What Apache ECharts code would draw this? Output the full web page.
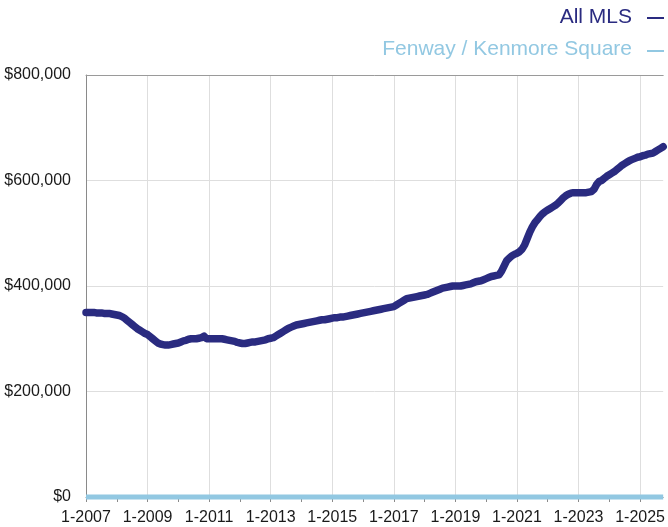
<!DOCTYPE html>
<html>
<head>
<meta charset="utf-8">
<script src="https://cdn.jsdelivr.net/npm/echarts@6/dist/echarts.min.js"></script>
<style>
html,body{margin:0;padding:0;background:#fff;}
#chart{width:668px;height:527px;}
</style>
</head>
<body>
<div id="chart"></div>
<script>
// Months shown: 1-2007 through 10-2025
const startYear = 2007;
const monthCount = 226;

// Median sale price, thousands of dollars (All MLS), monthly from 1-2007
const allMLS = [
  /*2007*/ 350,350,350,350,349,349,349,348,348,348,347,346,
  /*2008*/ 345,344,342,339,335,331,327,323,319,316,313,310,
  /*2009*/ 308,304,300,296,292,290,289,288,288,289,290,291,
  /*2010*/ 292,294,296,297,299,300,300,300,301,302,305,300,
  /*2011*/ 300,300,300,300,300,300,299,298,297,296,295,293,
  /*2012*/ 292,291,291,292,293,294,294,295,296,297,298,300,
  /*2013*/ 301,302,305,308,311,314,317,320,322,324,326,327,
  /*2014*/ 328,329,330,331,332,333,334,335,336,336,337,338,
  /*2015*/ 339,340,340,341,341,342,343,344,345,346,347,348,
  /*2016*/ 349,350,351,352,353,354,355,356,357,358,359,360,
  /*2017*/ 361,364,367,370,373,376,377,378,379,380,381,382,
  /*2018*/ 383,384,386,388,390,392,394,396,397,398,399,400,
  /*2019*/ 400,400,400,401,402,403,404,406,408,409,410,412,
  /*2020*/ 414,416,418,419,420,421,428,438,448,453,457,460,
  /*2021*/ 462,465,470,478,490,502,512,520,526,532,537,541,
  /*2022*/ 544,547,550,553,557,562,567,571,574,576,577,577,
  /*2023*/ 577,577,577,577,578,579,583,592,598,600,604,608,
  /*2024*/ 611,614,617,621,625,629,632,635,638,640,642,644,
  /*2025*/ 645,647,648,650,651,652,655,658,661,664
];

// Fenway / Kenmore Square, thousands of dollars (drawn along $0)
const fenway = [
  /*2007*/ 0,0,0,0,0,0,0,0,0,0,0,0,
  /*2008*/ 0,0,0,0,0,0,0,0,0,0,0,0,
  /*2009*/ 0,0,0,0,0,0,0,0,0,0,0,0,
  /*2010*/ 0,0,0,0,0,0,0,0,0,0,0,0,
  /*2011*/ 0,0,0,0,0,0,0,0,0,0,0,0,
  /*2012*/ 0,0,0,0,0,0,0,0,0,0,0,0,
  /*2013*/ 0,0,0,0,0,0,0,0,0,0,0,0,
  /*2014*/ 0,0,0,0,0,0,0,0,0,0,0,0,
  /*2015*/ 0,0,0,0,0,0,0,0,0,0,0,0,
  /*2016*/ 0,0,0,0,0,0,0,0,0,0,0,0,
  /*2017*/ 0,0,0,0,0,0,0,0,0,0,0,0,
  /*2018*/ 0,0,0,0,0,0,0,0,0,0,0,0,
  /*2019*/ 0,0,0,0,0,0,0,0,0,0,0,0,
  /*2020*/ 0,0,0,0,0,0,0,0,0,0,0,0,
  /*2021*/ 0,0,0,0,0,0,0,0,0,0,0,0,
  /*2022*/ 0,0,0,0,0,0,0,0,0,0,0,0,
  /*2023*/ 0,0,0,0,0,0,0,0,0,0,0,0,
  /*2024*/ 0,0,0,0,0,0,0,0,0,0,0,0,
  /*2025*/ 0,0,0,0,0,0,0,0,0,0
];

// Y tick values (thousands)
const yMin = 0, yMax = 800, yStep = 200;

const categories = [];
for (let i = 0; i < monthCount; i++) {
  const y = startYear + Math.floor(i / 12);
  const m = (i % 12) + 1;
  categories.push(m + '-' + y);
}

const NAVY = '#2a2b80';
const LIGHT = '#92c8e2';
const FONT = '"Liberation Sans", Arial, Helvetica, sans-serif';

const chart = echarts.init(document.getElementById('chart'), null, {renderer: 'canvas'});
chart.setOption({
  animation: false,
  backgroundColor: '#ffffff',
  grid: {left: 86, right: 0, top: 75, bottom: 30, containLabel: false},
  xAxis: [{
    type: 'category',
    data: categories,
    boundaryGap: false,
    axisLine: {show: true, lineStyle: {color: '#8a8a8a', width: 1}},
    axisTick: {show: true, interval: 11, length: 5, lineStyle: {color: '#8a8a8a'}},
    axisLabel: {interval: 23, color: '#1a1a1a', fontSize: 16, fontFamily: FONT, margin: 13},
    splitLine: {show: true, interval: 23, lineStyle: {color: '#dedede', width: 1}}
  }, {
    type: 'category',
    data: categories,
    position: 'top',
    boundaryGap: false,
    axisLine: {show: true, lineStyle: {color: '#9a9a9a', width: 1}},
    axisTick: {show: false},
    axisLabel: {show: false},
    splitLine: {show: false}
  }],
  yAxis: {
    type: 'value',
    min: yMin, max: yMax, interval: yStep,
    axisLine: {show: true, lineStyle: {color: '#8a8a8a', width: 1}},
    axisTick: {show: false},
    axisLabel: {
      color: '#1a1a1a', fontSize: 16, fontFamily: FONT, margin: 15,
      formatter: v => v === 0 ? '$0' : '$' + v + ',000'
    },
    splitLine: {show: true, lineStyle: {color: '#dedede', width: 1}}
  },
  series: [{
    name: 'All MLS',
    type: 'line',
    data: allMLS,
    showSymbol: false,
    symbol: 'none',
    clip: false,
    lineStyle: {color: NAVY, width: 7.5, join: 'round', cap: 'round'},
    z: 3
  }, {
    name: 'Fenway / Kenmore Square',
    type: 'line',
    data: fenway,
    showSymbol: false,
    symbol: 'none',
    clip: false,
    lineStyle: {color: LIGHT, width: 5},
    z: 4
  }],
  graphic: [
    {type: 'text', right: 36, top: 7, style: {text: 'All MLS', fill: NAVY, font: '21px ' + FONT}},
    {type: 'line', shape: {x1: 647, y1: 18, x2: 664, y2: 18}, style: {stroke: NAVY, lineWidth: 2}},
    {type: 'text', right: 36, top: 39, style: {text: 'Fenway / Kenmore Square', fill: LIGHT, font: '21px ' + FONT}},
    {type: 'line', shape: {x1: 647, y1: 51, x2: 664, y2: 51}, style: {stroke: LIGHT, lineWidth: 2}}
  ]
});
</script>
</body>
</html>
